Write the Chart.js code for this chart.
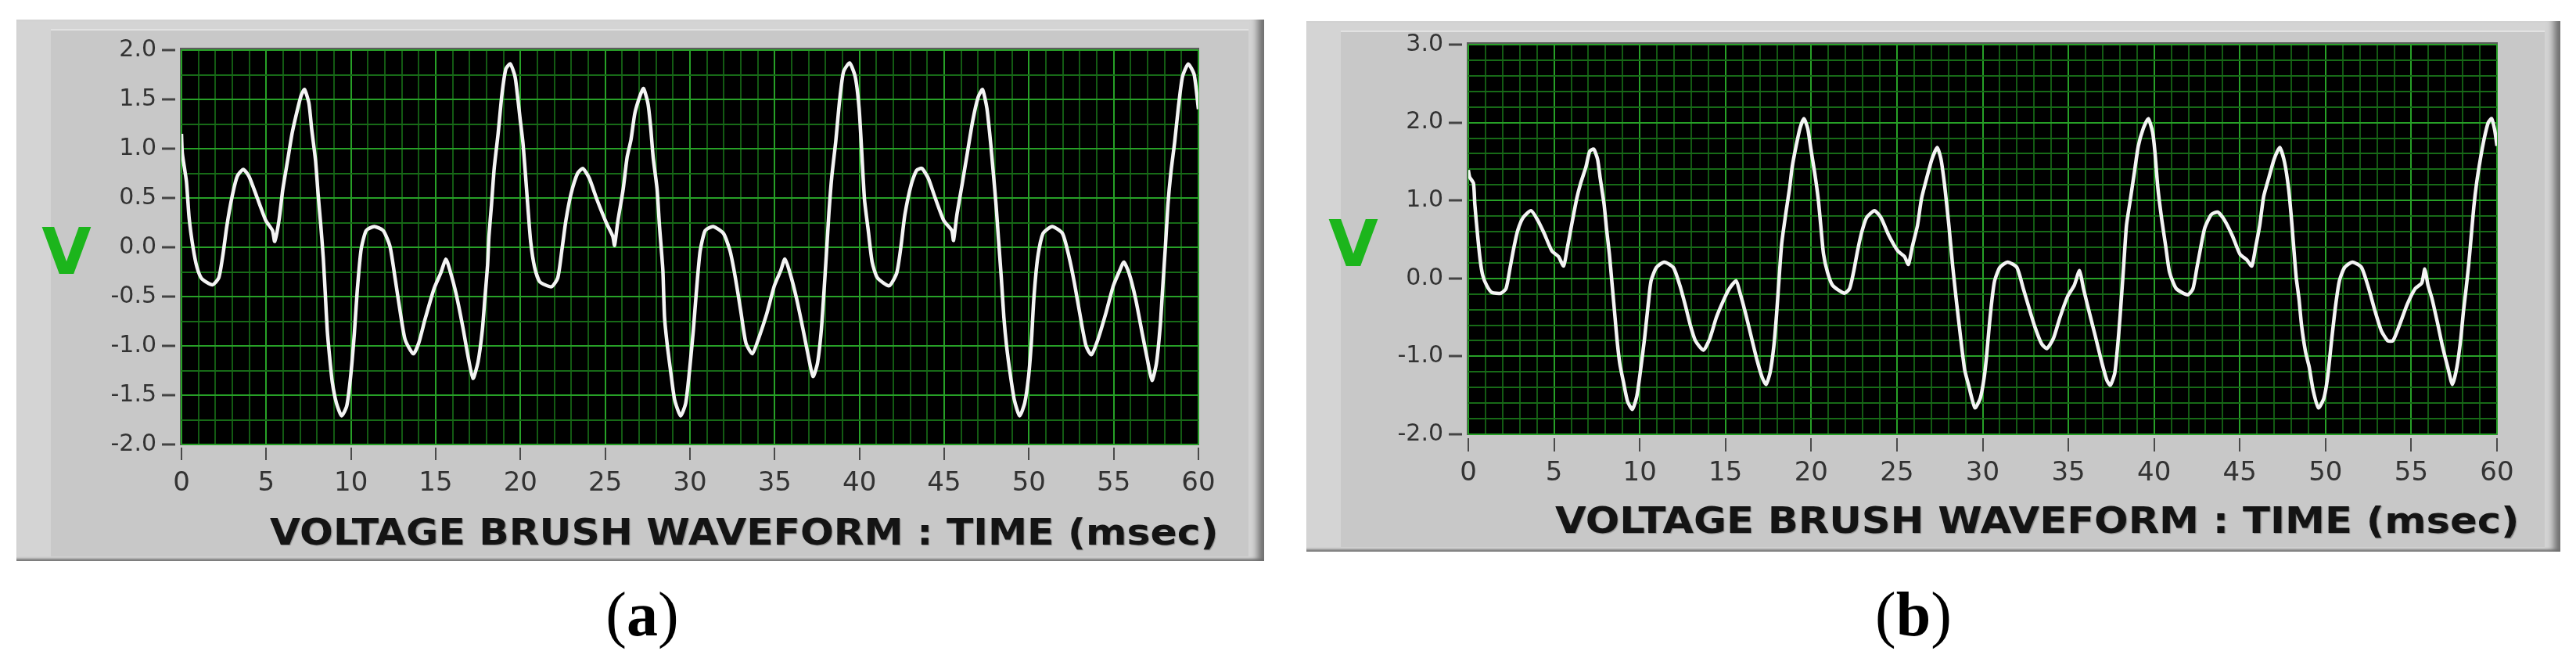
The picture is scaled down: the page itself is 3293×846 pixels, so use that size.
<!DOCTYPE html>
<html>
<head>
<meta charset="utf-8">
<title>Voltage brush waveform</title>
<script src="https://cdn.jsdelivr.net/npm/chart.js@4.4.0/dist/chart.umd.min.js"></script>
<style>
    html, body { margin: 0; padding: 0; background: #fff; }
    body { position: relative; width: 3293px; height: 846px; overflow: hidden; font-family: "DejaVu Sans", sans-serif; }
    .frame { position: absolute; background: #d4d4d4; box-shadow: inset -16px 0 10px -8px #6e6e6e, inset 0 -5px 3px -2px #7a7a7a; }
    .frame .inner { position: absolute; left: 44px; top: 12px; right: 20px; bottom: 6px; background: #c8c8c8; border-top: 2px solid #e2e2e2; }
    .frame canvas { position: absolute; left: 0; top: 0; }
    .vlabel { position: absolute; transform: translate(-50%, -50%); font: bold 82px "DejaVu Sans", sans-serif; color: #1cb51c; line-height: 1; }
    .xtitle { position: absolute; transform-origin: left center; font: bold 46px "DejaVu Sans", sans-serif; color: #141414; white-space: nowrap; line-height: 1; text-shadow: 1px 1px 1px #8a8a8a; }
    .caption { position: absolute; transform: translate(-50%, -50%); font: 80px "Liberation Serif", "Times New Roman", serif; color: #000; line-height: 1; }
</style>
</head>
<body>

<div class="frame" id="frameA" style="left:21px; top:25px; width:1595px; height:692px;">
    <div class="inner"></div>
    <canvas id="chartA" width="1595" height="692"></canvas>
</div>
<div class="vlabel" style="left:85px; top:322px;">V</div>
<div class="xtitle" data-width="1213" style="left:345px; top:680px;">VOLTAGE BRUSH WAVEFORM : TIME (msec)</div>
<div class="caption" style="left:821px; top:785px;">(<b>a</b>)</div>

<div class="frame" id="frameB" style="left:1670px; top:27px; width:1603px; height:678px;">
    <div class="inner"></div>
    <canvas id="chartB" width="1603" height="678"></canvas>
</div>
<div class="vlabel" style="left:1730px; top:312px;">V</div>
<div class="xtitle" data-width="1233" style="left:1988px; top:665px;">VOLTAGE BRUSH WAVEFORM : TIME (msec)</div>
<div class="caption" style="left:2446px; top:785px;">(<b>b</b>)</div>

<script>
// ---- data (time in msec, voltage in V) ----
var timeA = [0, 0.05, 0.29, 0.45, 0.68, 0.91, 1.2, 1.83, 2.2, 2.45, 2.68, 2.98, 3.29, 3.65, 3.98, 4.45, 4.98, 5.37, 5.5, 5.75,
    5.98, 6.29, 6.52, 6.75, 7.06, 7.26, 7.52, 7.68, 7.91, 8.06, 8.22, 8.37, 8.49, 8.6, 8.75, 8.9, 9.14, 9.45, 9.75, 9.98,
    10.2, 10.37, 10.6, 10.9, 11.37, 11.9, 12.3, 12.6, 12.9, 13.2, 13.68, 14.0, 14.37, 14.9, 15.3, 15.6, 15.83, 16.2, 16.6, 16.9,
    17.2, 17.5, 17.75, 17.9, 18.06, 18.14, 18.29, 18.45, 18.68, 18.9, 19.14, 19.4, 19.68, 19.85, 19.98, 20.14, 20.29, 20.45, 20.6, 20.83,
    21.14, 21.83, 22.2, 22.45, 22.68, 22.98, 23.37, 23.68, 24.06, 24.52, 25.06, 25.45, 25.55, 25.75, 26.06, 26.29, 26.52, 26.75, 27.06, 27.26,
    27.52, 27.68, 27.83, 28.06, 28.2, 28.4, 28.5, 28.68, 28.9, 29.1, 29.45, 29.75, 29.98, 30.2, 30.37, 30.6, 30.9, 31.37, 31.98, 32.37,
    32.68, 33.0, 33.3, 33.68, 34.06, 34.52, 34.98, 35.37, 35.6, 35.9, 36.29, 36.68, 36.98, 37.26, 37.52, 37.75, 37.9, 38.06, 38.2, 38.37,
    38.6, 38.83, 39.06, 39.42, 39.75, 39.98, 40.14, 40.3, 40.52, 40.75, 41.06, 41.75, 42.2, 42.45, 42.68, 43.06, 43.37, 43.68, 44.06, 44.45,
    44.98, 45.45, 45.55, 45.75, 46.06, 46.37, 46.68, 47.0, 47.26, 47.52, 47.75, 47.9, 48.06, 48.2, 48.37, 48.52, 48.68, 48.9, 49.14, 49.45,
    49.75, 49.98, 50.14, 50.29, 50.52, 50.83, 51.37, 51.98, 52.37, 52.68, 53.06, 53.37, 53.68, 54.06, 54.52, 54.98, 55.37, 55.6, 55.9, 56.29,
    56.68, 56.98, 57.26, 57.52, 57.75, 57.9, 58.06, 58.2, 58.37, 58.6, 58.83, 59.06, 59.4, 59.75, 60.0];
var voltA = [1.15, 0.95, 0.67, 0.30, 0.00, -0.20, -0.32, -0.38, -0.31, -0.07, 0.22, 0.51, 0.72, 0.79, 0.72, 0.51, 0.27, 0.17, 0.06, 0.27,
    0.59, 0.91, 1.15, 1.33, 1.54, 1.60, 1.46, 1.20, 0.88, 0.54, 0.22, -0.12, -0.49, -0.84, -1.13, -1.37, -1.58, -1.71, -1.61, -1.31,
    -0.87, -0.44, -0.02, 0.17, 0.21, 0.17, 0.01, -0.31, -0.65, -0.94, -1.08, -0.97, -0.73, -0.42, -0.26, -0.12, -0.23, -0.47, -0.81, -1.10,
    -1.33, -1.16, -0.84, -0.52, -0.18, 0.11, 0.43, 0.80, 1.15, 1.54, 1.81, 1.86, 1.73, 1.50, 1.30, 1.07, 0.75, 0.38, 0.06, -0.20,
    -0.35, -0.40, -0.31, -0.02, 0.27, 0.54, 0.75, 0.80, 0.70, 0.48, 0.25, 0.11, 0.02, 0.27, 0.59, 0.91, 1.09, 1.36, 1.54, 1.61,
    1.46, 1.22, 0.91, 0.59, 0.22, -0.23, -0.71, -1.02, -1.31, -1.55, -1.71, -1.58, -1.24, -0.84, -0.47, -0.04, 0.17, 0.21, 0.14, -0.04,
    -0.31, -0.65, -0.97, -1.08, -0.92, -0.68, -0.39, -0.23, -0.12, -0.26, -0.52, -0.84, -1.10, -1.31, -1.18, -0.84, -0.47, -0.04, 0.35, 0.72,
    1.07, 1.49, 1.78, 1.87, 1.73, 1.41, 0.95, 0.48, 0.17, -0.15, -0.31, -0.39, -0.26, 0.01, 0.33, 0.64, 0.78, 0.80, 0.70, 0.51,
    0.27, 0.17, 0.07, 0.33, 0.64, 0.96, 1.28, 1.52, 1.60, 1.41, 1.04, 0.75, 0.43, 0.09, -0.31, -0.71, -1.00, -1.29, -1.55, -1.71,
    -1.58, -1.31, -0.97, -0.52, -0.10, 0.14, 0.21, 0.14, -0.10, -0.36, -0.73, -1.00, -1.09, -0.94, -0.68, -0.39, -0.23, -0.15, -0.26, -0.52,
    -0.87, -1.13, -1.35, -1.18, -0.79, -0.39, 0.03, 0.43, 0.75, 1.07, 1.44, 1.73, 1.86, 1.75, 1.40];

var timeB = [0, 0.08, 0.3, 0.38, 0.53, 0.69, 0.84, 1.07, 1.37, 1.9, 2.2, 2.44, 2.67, 2.89, 3.2, 3.66, 4.04, 4.42, 4.88, 5.26,
    5.56, 5.79, 6.02, 6.32, 6.55, 6.86, 7.08, 7.31, 7.54, 7.69, 7.92, 8.07, 8.23, 8.38, 8.53, 8.68, 8.84, 9.06, 9.29, 9.57,
    9.83, 10.05, 10.28, 10.51, 10.66, 10.97, 11.43, 11.96, 12.34, 12.64, 12.95, 13.25, 13.71, 14.09, 14.47, 14.93, 15.23, 15.62, 15.84, 16.15,
    16.45, 16.83, 17.14, 17.37, 17.6, 17.82, 17.98, 18.13, 18.28, 18.51, 18.74, 18.89, 19.12, 19.35, 19.58, 19.8, 19.98, 20.2, 20.41, 20.57,
    20.72, 20.95, 21.25, 21.94, 22.24, 22.47, 22.7, 22.93, 23.23, 23.69, 24.07, 24.53, 25.06, 25.44, 25.67, 25.9, 26.2, 26.43, 26.74, 27.04,
    27.35, 27.57, 27.8, 28.03, 28.26, 28.49, 28.72, 28.95, 29.18, 29.55, 29.86, 30.09, 30.24, 30.39, 30.55, 30.7, 31.0, 31.46, 32.0, 32.37,
    32.68, 33.06, 33.44, 33.74, 34.13, 34.51, 34.96, 35.34, 35.65, 35.88, 36.18, 36.56, 36.94, 37.25, 37.45, 37.71, 37.94, 38.09, 38.24, 38.39,
    38.62, 38.85, 39.08, 39.38, 39.66, 39.91, 40.05, 40.22, 40.45, 40.68, 40.9, 41.29, 41.97, 42.27, 42.5, 42.73, 42.96, 43.34, 43.72, 44.1,
    44.56, 45.01, 45.4, 45.7, 45.93, 46.16, 46.39, 46.69, 47.0, 47.33, 47.61, 47.84, 47.99, 48.14, 48.29, 48.45, 48.6, 48.83, 49.05, 49.28,
    49.59, 49.9, 50.12, 50.35, 50.58, 50.81, 51.11, 51.57, 52.1, 52.56, 52.86, 53.25, 53.63, 53.93, 54.31, 54.77, 55.23, 55.61, 55.79, 55.98,
    56.21, 56.52, 56.82, 57.13, 57.4, 57.66, 57.89, 58.04, 58.2, 58.35, 58.5, 58.65, 58.81, 59.03, 59.26, 59.49, 59.69, 59.87, 60.0];
var voltB = [1.39, 1.30, 1.22, 0.95, 0.58, 0.24, 0.04, -0.09, -0.18, -0.19, -0.13, 0.14, 0.41, 0.62, 0.78, 0.87, 0.75, 0.58, 0.35, 0.28,
    0.16, 0.41, 0.68, 1.02, 1.22, 1.43, 1.63, 1.66, 1.53, 1.29, 0.95, 0.62, 0.31, -0.06, -0.43, -0.80, -1.10, -1.34, -1.58, -1.68,
    -1.51, -1.17, -0.77, -0.30, -0.03, 0.14, 0.21, 0.14, -0.09, -0.33, -0.60, -0.80, -0.92, -0.77, -0.50, -0.26, -0.13, -0.03, -0.18, -0.43,
    -0.70, -1.04, -1.27, -1.36, -1.21, -0.87, -0.46, 0.01, 0.45, 0.82, 1.16, 1.43, 1.70, 1.93, 2.05, 1.92, 1.66, 1.36, 1.02, 0.65,
    0.31, 0.08, -0.09, -0.19, -0.13, 0.08, 0.35, 0.58, 0.78, 0.87, 0.78, 0.55, 0.35, 0.28, 0.18, 0.41, 0.68, 1.02, 1.29, 1.53,
    1.68, 1.53, 1.16, 0.68, 0.14, -0.33, -0.77, -1.17, -1.37, -1.66, -1.54, -1.27, -0.97, -0.60, -0.26, -0.03, 0.14, 0.21, 0.14, -0.13,
    -0.36, -0.63, -0.84, -0.90, -0.77, -0.50, -0.23, -0.09, 0.10, -0.13, -0.40, -0.73, -1.07, -1.31, -1.37, -1.21, -0.70, -0.26, 0.21, 0.68,
    1.02, 1.36, 1.70, 1.93, 2.05, 1.88, 1.62, 1.16, 0.75, 0.41, 0.08, -0.13, -0.21, -0.13, 0.14, 0.41, 0.65, 0.82, 0.85, 0.75,
    0.55, 0.31, 0.24, 0.16, 0.41, 0.68, 1.05, 1.29, 1.53, 1.68, 1.49, 1.16, 0.82, 0.41, 0.01, -0.26, -0.60, -0.94, -1.14, -1.44,
    -1.66, -1.54, -1.27, -0.80, -0.36, -0.03, 0.14, 0.21, 0.14, -0.16, -0.40, -0.67, -0.80, -0.80, -0.60, -0.33, -0.13, -0.06, 0.12, -0.09,
    -0.26, -0.56, -0.87, -1.14, -1.36, -1.14, -0.77, -0.43, -0.13, 0.18, 0.55, 0.92, 1.22, 1.53, 1.80, 2.00, 2.05, 1.90, 1.70];

// axis ranges and tick steps
var timeRange = [0, 60];
var timeLabelStep = 5;
var voltRangeA = [-2, 2];
var voltRangeB = [-2, 3];

(function() {
    'use strict';

    // black scope screen behind the grid
    var scopeScreen = {
        id: 'scopeScreen',
        beforeDraw: function(chart) {
            var a = chart.chartArea;
            var ctx = chart.ctx;
            ctx.save();
            ctx.fillStyle = '#5c5c5c';
            ctx.fillRect(a.left - 2, a.top - 3, a.width + 3, a.height + 4);
            ctx.fillStyle = '#000';
            ctx.fillRect(a.left, a.top, a.width, a.height);
            ctx.restore();
        }
    };

    function isMultiple(value, step) {
        var r = value / step;
        return Math.abs(r - Math.round(r)) < 1e-6;
    }

    function makeScope(canvasId, times, volts, cfg) {
        var points = times.map(function(t, i) { return { x: t, y: volts[i] }; });

        return new Chart(document.getElementById(canvasId), {
            type: 'line',
            data: {
                datasets: [{
                    data: points,
                    borderColor: '#f4f4f4',
                    borderWidth: 4.5,
                    pointRadius: 0,
                    tension: 0.2,
                    fill: false
                }]
            },
            options: {
                responsive: false,
                animation: false,
                events: [],
                layout: {
                    padding: { left: 0, top: cfg.padTop, right: cfg.padRight, bottom: 0 }
                },
                plugins: {
                    legend: { display: false },
                    tooltip: { enabled: false }
                },
                scales: {
                    x: {
                        type: 'linear',
                        min: timeRange[0],
                        max: timeRange[1],
                        border: { display: false },
                        afterFit: function(scale) { scale.height = cfg.xAxisHeight; },
                        grid: {
                            color: function(c) {
                                return isMultiple(c.tick.value, timeLabelStep) ? '#27a027' : '#135a13';
                            },
                            lineWidth: 2,
                            drawTicks: true,
                            tickLength: cfg.xTickGap + cfg.xTickLen,
                            tickWidth: 2,
                            tickBorderDash: [cfg.xTickLen, cfg.xTickGap],
                            tickBorderDashOffset: cfg.xTickLen,
                            tickColor: function(c) {
                                return isMultiple(c.tick.value, timeLabelStep) ? '#4a4a4a' : 'rgba(0,0,0,0)';
                            }
                        },
                        ticks: {
                            stepSize: cfg.xMinor,
                            autoSkip: false,
                            maxRotation: 0,
                            minRotation: 0,
                            padding: cfg.xLabelPad,
                            color: '#333',
                            font: { family: 'DejaVu Sans', size: 34 },
                            callback: function(value) {
                                return isMultiple(value, timeLabelStep) ? String(Math.round(value)) : '';
                            }
                        }
                    },
                    y: {
                        type: 'linear',
                        min: cfg.yRange[0],
                        max: cfg.yRange[1],
                        border: { display: false },
                        afterFit: function(scale) { scale.width = cfg.yAxisWidth; },
                        grid: {
                            color: function(c) {
                                return isMultiple(c.tick.value, cfg.yMajor) ? '#27a027' : '#176a17';
                            },
                            lineWidth: 2,
                            drawTicks: true,
                            tickLength: 25,
                            tickWidth: 3,
                            tickBorderDash: [17, 30],
                            tickColor: function(c) {
                                return isMultiple(c.tick.value, cfg.yMajor) ? '#444' : 'rgba(0,0,0,0)';
                            }
                        },
                        ticks: {
                            stepSize: cfg.yMinor,
                            autoSkip: false,
                            padding: 7,
                            color: '#333',
                            font: { family: 'DejaVu Sans', size: 30 },
                            callback: function(value) {
                                return isMultiple(value, cfg.yMajor) ? value.toFixed(1) : '';
                            }
                        }
                    }
                }
            },
            plugins: [scopeScreen]
        });
    }

    makeScope('chartA', timeA, voltA, {
        yRange: voltRangeA, yMajor: 0.5, yMinor: 0.25, xMinor: 1,
        padTop: 39, padRight: 84, yAxisWidth: 211, xAxisHeight: 149,
        xTickGap: 4, xTickLen: 16, xLabelPad: 10
    });

    makeScope('chartB', timeB, voltB, {
        yRange: voltRangeB, yMajor: 1, yMinor: 0.2, xMinor: 1,
        padTop: 30, padRight: 81, yAxisWidth: 207, xAxisHeight: 150,
        xTickGap: 5, xTickLen: 17, xLabelPad: 8
    });

    // stretch the axis captions to the width they take in the original
    var titles = document.querySelectorAll('.xtitle');
    for (var i = 0; i < titles.length; i++) {
        var el = titles[i];
        var target = parseFloat(el.getAttribute('data-width'));
        el.style.transform = 'translateY(-50%) scaleX(' + (target / el.offsetWidth).toFixed(4) + ')';
    }
})();
</script>
</body>
</html>
